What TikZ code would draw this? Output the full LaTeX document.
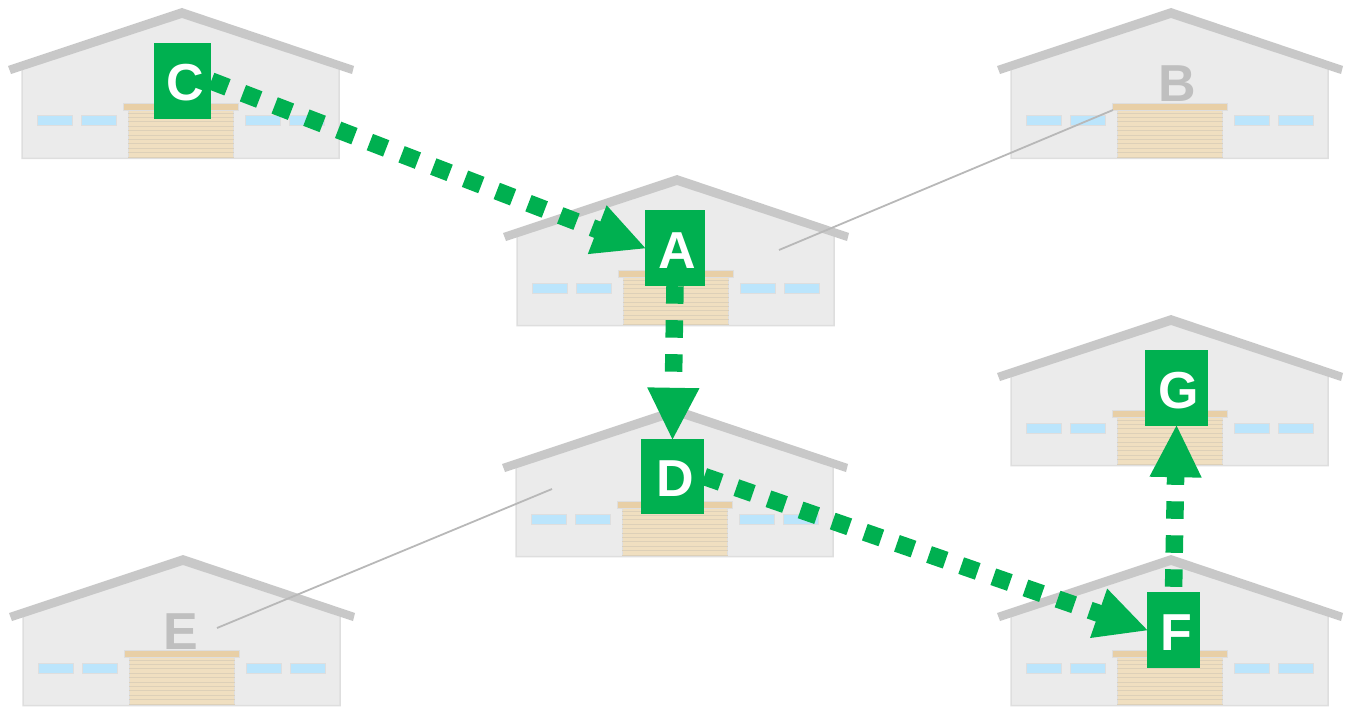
\documentclass[tikz,border=0pt]{standalone}
\usepackage{fontspec}
\setmainfont{Liberation Sans}
\usetikzlibrary{arrows.meta}
\definecolor{wallgray}{HTML}{EBEBEB}
\definecolor{wallline}{HTML}{DEDEDE}
\definecolor{roofgray}{HTML}{C8C8C8}
\definecolor{doorfill}{HTML}{F0DFC0}
\definecolor{doorline}{HTML}{DDD0B8}
\definecolor{lintel}{HTML}{E8CFA6}
\definecolor{glass}{HTML}{BBE5FC}
\definecolor{boxgreen}{HTML}{00B050}
\tikzset{
    letter/.style={font=\fontsize{52}{52}\selectfont\bfseries,inner sep=0pt,text height=40pt,text depth=0pt,execute at begin node={\hspace*{5pt}}},
    stop/.style={letter,fill=boxgreen,text=white},
    idle/.style={letter,text=black!25},
    route/.style={boxgreen,line width=17.5pt,dash pattern=on 17.5pt off 16.5pt,shorten >=-2pt,-{Triangle[length=53pt,width=48pt]}},
    link/.style={black!28,line width=1.8pt},
    pane/.style={fill=glass,draw=wallline,line width=1pt},
    warehouse/.pic={
        \draw[fill=wallgray,draw=wallline,line width=1.5pt] (-160,60)--(0,5)--(157,60)--(157,150.5)--(-160,150.5)--cycle;
        \fill[roofgray] (-174,58)--(0,0)--(172,58)--(170,66)--(0,10)--(-171,66)--cycle;
        \foreach \x in {-145,-101,63,107}
            \draw[pane] (\x,108) rectangle ++(35,10);
        \draw[fill=doorfill,draw=wallline,line width=1pt] (-54,102) rectangle (51.5,150.5);
        \foreach \y in {0,...,10}
            \draw[doorline,line width=0.8pt] (-54,105+4.4*\y)--(51.5,105+4.4*\y);
        \draw[fill=lintel,draw=wallline,line width=0.8pt] (-58.5,95) rectangle (56.5,102);
    }
}
\begin{document}
\begin{tikzpicture}[x=1pt,y=-1pt]
    \useasboundingbox (0,0) rectangle (1351,714);
    \pic at (182,8) {warehouse};
    \pic at (1171,8) {warehouse};
    \pic at (677,175) {warehouse};
    \pic at (676,406) {warehouse};
    \pic at (1171,315) {warehouse};
    \pic at (183,555) {warehouse};
    \pic at (1171,555) {warehouse};
    \coordinate (endA) at (779,250);
    \coordinate (endB) at (1113,110);
    \coordinate (endD) at (552,489);
    \coordinate (endE) at (217,628);
    \draw[link] (endB)--(endA);
    \draw[link] (endE)--(endD);
    \node[idle] (nodeB) at (1174.5,82) {B};
    \node[idle] (nodeE) at (178.5,629) {E};
    \node[stop,minimum width=57pt,minimum height=76pt] (nodeC) at (182.5,81) {C};
    \node[stop,minimum width=60pt,minimum height=76pt] (nodeA) at (675,248) {A};
    \node[stop,minimum width=63pt,minimum height=75pt] (nodeD) at (672.5,476.5) {D};
    \node[stop,minimum width=63pt,minimum height=76pt] (nodeG) at (1176.5,388) {G};
    \node[stop,minimum width=53pt,minimum height=76pt] (nodeF) at (1173.5,630) {F};
    \draw[route] (nodeC.east)--(nodeA.west);
    \draw[route] (nodeA.south)--(nodeD.north);
    \draw[route] (nodeD.east)--(nodeF.west);
    \draw[route,dash phase=29pt] (nodeF.north)--(nodeG.south);
\end{tikzpicture}
\end{document}
